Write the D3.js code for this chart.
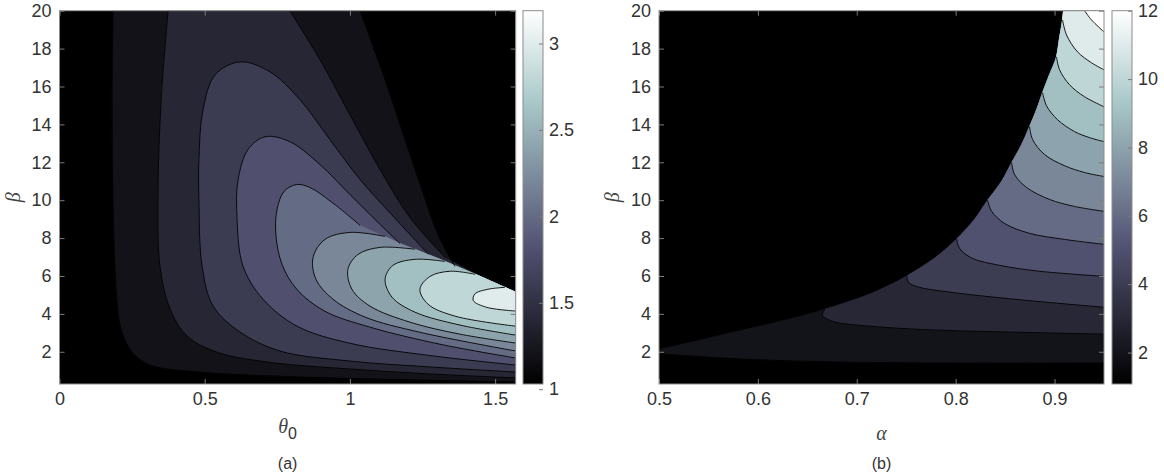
<!DOCTYPE html>
<html>
<head>
<meta charset="utf-8">
<script src="https://cdn.jsdelivr.net/npm/d3@7"></script>
<style>
  body { margin: 0; background: #fff; }
  svg { display: block; }
  .tick text { font-family: "Liberation Sans", Arial, sans-serif; font-size: 18px; fill: #333; }
  .lbl { font-family: "Liberation Sans", Arial, sans-serif; font-size: 16px; fill: #333; }
  .greek { font-family: "Liberation Serif", "DejaVu Serif", serif; font-style: italic; font-size: 20px; fill: #444; }
</style>
</head>
<body>
<svg id="chart" width="1164" height="476"></svg>
<script>
// ---------- panel (a): theta_0 vs beta ----------
const levelsA = [1.2, 1.4, 1.6, 1.8, 2.0, 2.2, 2.4, 2.6, 2.8, 3.0];
const colorRangeA = [1.03, 3.19];
const xTicksA = [0, 0.5, 1, 1.5];
const cbTicksA = [1, 1.5, 2, 2.5, 3];
// ridge where the contours pile up (upper edge of the lobe), ends on the right border
const ridgeA = [[0.93, 9.41], [1.035, 8.67], [1.172, 7.72], [1.31, 6.88], [1.448, 5.98], [1.5708, 5.14]];
// left/bottom branch of each level
const contoursA = [
  [[0.184, 20], [0.181, 15.3], [0.184, 10.04], [0.195, 5.3], [0.212, 3.19], [0.25, 1.98], [0.312, 1.3], [0.484, 0.93], [0.828, 0.67], [1.241, 0.51], [1.5708, 0.41]],
  [[0.374, 20], [0.35, 15.3], [0.339, 10.04], [0.346, 6.51], [0.381, 4.25], [0.439, 2.83], [0.542, 1.98], [0.715, 1.46], [1.0, 1.09], [1.276, 0.83], [1.5708, 0.62]],
  [[1.27, 7.15], [1.172, 8.77], [1.035, 11.09], [0.931, 13.2], [0.828, 15.3], [0.725, 16.77], [0.622, 17.3], [0.536, 16.62], [0.494, 14.77], [0.48, 12.14], [0.48, 10.04], [0.491, 6.51], [0.529, 4.41], [0.622, 3.04], [0.759, 2.04], [1.0, 1.51], [1.276, 1.2], [1.5708, 0.93]],
  [[1.172, 7.72], [1.104, 8.72], [1.0, 10.3], [0.897, 11.88], [0.793, 13.09], [0.708, 13.35], [0.649, 12.67], [0.615, 11.09], [0.611, 9.14], [0.632, 6.51], [0.701, 4.77], [0.818, 3.35], [1.0, 2.45], [1.276, 1.8], [1.5708, 1.3]],
  [[1.035, 8.67], [0.948, 9.77], [0.862, 10.67], [0.817, 10.83], [0.773, 10.46], [0.749, 9.51], [0.745, 8.19], [0.766, 6.62], [0.817, 5.3], [0.914, 4.14], [1.069, 3.3], [1.31, 2.4], [1.5708, 1.67]],
  [[1.121, 8.09], [1.0, 8.3], [0.914, 7.93], [0.873, 6.98], [0.883, 5.83], [0.942, 4.77], [1.052, 3.83], [1.241, 3.03], [1.5708, 2.04]],
  [[1.224, 7.41], [1.104, 7.51], [1.028, 7.14], [0.993, 6.35], [1.007, 5.3], [1.069, 4.41], [1.207, 3.56], [1.379, 2.93], [1.5708, 2.46]],
  [[1.327, 6.77], [1.224, 6.88], [1.148, 6.56], [1.121, 5.83], [1.145, 4.88], [1.224, 4.09], [1.379, 3.41], [1.5708, 2.88]],
  [[1.431, 6.09], [1.345, 6.25], [1.276, 5.98], [1.241, 5.3], [1.269, 4.51], [1.362, 3.88], [1.5708, 3.35]],
  [[1.534, 5.4], [1.475, 5.3], [1.43, 5.05], [1.425, 4.7], [1.47, 4.35], [1.5708, 4.15]]
];
// upper-right branch (from the top border down into the ridge), only for the lowest levels
const fansA = [
  [[1.035, 20], [1.121, 16.35], [1.19, 13.2], [1.248, 10.56], [1.303, 8.19], [1.362, 6.5]],
  [[0.793, 20], [0.897, 17.41], [1.0, 14.51], [1.104, 11.61], [1.207, 9.08], [1.33, 6.95]],
  null, null, null, null, null, null, null, null
];

// ---------- panel (b): alpha vs beta ----------
const levelsB = [2, 3, 4, 5, 6, 7, 8, 9, 10, 11, 12];
const colorRangeB = [1.08, 12];
const xTicksB = [0.5, 0.6, 0.7, 0.8, 0.9];
const cbTicksB = [2, 4, 6, 8, 10, 12];
// edge of the empty (black) region, from left border to top border
const edgeB = [[0.5, 2.12], [0.5414, 2.62], [0.5818, 3.12], [0.6253, 3.65], [0.6677, 4.25], [0.7131, 5.05], [0.7505, 6.0], [0.7788, 6.95], [0.801, 7.95], [0.8192, 9.0], [0.8323, 10.0], [0.8465, 11.0], [0.8566, 11.98], [0.8667, 12.93], [0.8747, 13.88], [0.8818, 14.77], [0.8879, 15.67], [0.8949, 16.62], [0.902, 17.56], [0.9051, 18.56], [0.9081, 19.51], [0.9091, 20]];
const contoursB = [
  [[0.5, 1.9], [0.5818, 1.62], [0.6828, 1.46], [0.7838, 1.41], [0.95, 1.41]],
  [[0.6677, 4.25], [0.6652, 3.95], [0.6747, 3.62], [0.7131, 3.35], [0.7838, 3.14], [0.8646, 3.03], [0.95, 2.93]],
  [[0.7505, 6.0], [0.7525, 5.65], [0.7636, 5.4], [0.7939, 5.15], [0.8444, 4.85], [0.8949, 4.6], [0.95, 4.35]],
  [[0.801, 7.95], [0.804, 7.45], [0.8162, 6.95], [0.8444, 6.56], [0.8848, 6.25], [0.95, 5.98]],
  [[0.8323, 10.0], [0.8364, 9.41], [0.8495, 8.77], [0.8747, 8.25], [0.9101, 7.93], [0.95, 7.67]],
  [[0.8566, 11.98], [0.8596, 11.35], [0.8717, 10.67], [0.8949, 10.04], [0.9202, 9.67], [0.95, 9.41]],
  [[0.8747, 13.88], [0.8778, 13.2], [0.8899, 12.41], [0.9101, 11.82], [0.9303, 11.46], [0.95, 11.25]],
  [[0.8879, 15.67], [0.8919, 14.98], [0.903, 14.25], [0.9202, 13.62], [0.9354, 13.3], [0.95, 13.09]],
  [[0.902, 17.56], [0.9051, 16.88], [0.9152, 16.09], [0.9303, 15.46], [0.95, 14.93]],
  [[0.9081, 19.51], [0.9121, 18.72], [0.9232, 17.83], [0.9374, 17.25], [0.95, 16.88]],
  [[0.9303, 20], [0.9374, 19.51], [0.95, 18.88]]
];

const yTicks = [2, 4, 6, 8, 10, 12, 14, 16, 18, 20];

// ---------- drawing ----------
const svg = d3.select("#chart");
// MATLAB "bone" colormap (piecewise linear)
const bone = d3.scaleLinear().domain([0, 0.375, 0.75, 1])
  .range(["#000000", "#545474", "#a7c7c7", "#ffffff"]);
const boxColor = "#8c8c8c";

function panel(opt) {
  const x = d3.scaleLinear().domain(opt.xDomain).range([opt.left, opt.right]);
  const y = d3.scaleLinear().domain([0.3, 20]).range([opt.bottom, opt.top]);
  const c = d3.scaleLinear().domain(opt.cRange).range([0, 1]).clamp(true);
  const smooth = d3.line().x(d => x(d[0])).y(d => y(d[1])).curve(d3.curveCatmullRom.alpha(0.5));
  const straight = d3.line().x(d => x(d[0])).y(d => y(d[1]));
  const join = p => (p ? "L" + p.slice(1).replace(/Z$/, "") : "");

  const g = svg.append("g");
  g.append("clipPath").attr("id", "clip-" + opt.name).append("rect")
    .attr("x", opt.left).attr("y", opt.top)
    .attr("width", opt.right - opt.left).attr("height", opt.bottom - opt.top);
  const plot = g.append("g").attr("clip-path", `url(#clip-${opt.name})`);
  plot.append("rect")
    .attr("x", opt.left).attr("y", opt.top)
    .attr("width", opt.right - opt.left).attr("height", opt.bottom - opt.top)
    .attr("fill", bone(0));

  // filled bands, lowest level first
  opt.levels.forEach((lev, i) => {
    plot.append("path")
      .attr("d", opt.region(i, smooth, straight, join))
      .attr("fill", bone(c(lev)))
      .attr("stroke", bone(c(lev)))
      .attr("stroke-width", 0.6);
  });
  // contour lines
  const lines = plot.append("g").attr("fill", "none").attr("stroke", "#000").attr("stroke-width", 0.9);
  opt.curves.forEach(cv => { if (cv) lines.append("path").attr("d", smooth(cv)); });

  // axes, ticks inside on all four sides
  const tidy = s => { s.select(".domain").remove(); s.selectAll(".tick line").attr("stroke", "#7a7a7a"); };
  g.append("g").attr("transform", `translate(0,${opt.bottom})`)
    .call(d3.axisBottom(x).tickValues(opt.xTicks).tickSize(-5).tickPadding(8).tickFormat(d3.format("")))
    .call(tidy);
  g.append("g").attr("transform", `translate(0,${opt.top})`)
    .call(d3.axisTop(x).tickValues(opt.xTicks).tickSize(-5).tickFormat(""))
    .call(tidy);
  g.append("g").attr("transform", `translate(${opt.left},0)`)
    .call(d3.axisLeft(y).tickValues(yTicks).tickSize(-5).tickPadding(8))
    .call(tidy);
  g.append("g").attr("transform", `translate(${opt.right},0)`)
    .call(d3.axisRight(y).tickValues(yTicks).tickSize(-5).tickFormat(""))
    .call(tidy);
  g.append("rect")
    .attr("x", opt.left).attr("y", opt.top)
    .attr("width", opt.right - opt.left).attr("height", opt.bottom - opt.top)
    .attr("fill", "none").attr("stroke", boxColor);

  // colorbar
  const cy = d3.scaleLinear().domain(opt.cRange).range([opt.bottom, opt.top]);
  const grad = g.append("linearGradient").attr("id", "grad-" + opt.name)
    .attr("x1", 0).attr("y1", 1).attr("x2", 0).attr("y2", 0);
  grad.selectAll("stop").data(bone.domain()).join("stop")
    .attr("offset", d => d).attr("stop-color", d => bone(d));
  g.append("rect")
    .attr("x", opt.cbLeft).attr("y", opt.top)
    .attr("width", 20).attr("height", opt.bottom - opt.top)
    .attr("fill", `url(#grad-${opt.name})`);
  g.append("g").attr("transform", `translate(${opt.cbLeft + 20},0)`)
    .call(d3.axisRight(cy).tickValues(opt.cbTicks).tickSize(-4).tickPadding(6).tickFormat(d3.format("")))
    .call(tidy);
  g.append("rect")
    .attr("x", opt.cbLeft).attr("y", opt.top)
    .attr("width", 20).attr("height", opt.bottom - opt.top)
    .attr("fill", "none").attr("stroke", boxColor);

  // labels
  const mid = (opt.left + opt.right) / 2;
  g.append("text").attr("class", "greek")
    .attr("transform", `translate(${opt.left - 46},${(opt.top + opt.bottom) / 2}) rotate(-90)`)
    .attr("text-anchor", "middle").attr("dy", "0.3em").text("β");
  opt.xLabel(g.append("text").attr("x", mid).attr("y", 433).attr("text-anchor", "middle"));
  g.append("text").attr("class", "lbl").attr("x", mid).attr("y", 469)
    .attr("text-anchor", "middle").text(opt.tag);
}

panel({
  name: "a", left: 59.5, right: 515.7, top: 10.7, bottom: 384, cbLeft: 523,
  xDomain: [0, Math.PI / 2], cRange: colorRangeA, levels: levelsA,
  xTicks: xTicksA, cbTicks: cbTicksA, tag: "(a)",
  curves: contoursA.concat(fansA),
  region: (i, smooth, straight, join) => {
    const cur = contoursA[i], fan = fansA[i];
    const end = cur[cur.length - 1];
    const from = fan ? fan[fan.length - 1][0] : cur[0][0];
    const rim = ridgeA.filter(p => p[0] > from).reverse();
    let d = smooth(cur) + join(straight([end, ...rim]));
    if (fan) d += join(smooth(fan.slice().reverse()));
    return d + "Z";
  },
  xLabel: t => {
    t.append("tspan").attr("class", "greek").text("θ");
    t.append("tspan").attr("class", "lbl").attr("dy", 6).attr("font-size", 17).text("0");
  }
});

panel({
  name: "b", left: 659, right: 1104, top: 10.7, bottom: 384, cbLeft: 1112,
  xDomain: [0.5, 0.95], cRange: colorRangeB, levels: levelsB,
  xTicks: xTicksB, cbTicks: cbTicksB, tag: "(b)",
  curves: contoursB,
  region: (i, smooth, straight, join) => {
    const cur = contoursB[i];
    const end = cur[cur.length - 1];
    const edge = edgeB.filter(p => p[0] >= cur[0][0]).reverse();
    let d = smooth(cur) + join(straight([end, [0.95, 20]]));
    if (edge.length) d += join(smooth(edge));
    return d + "Z";
  },
  xLabel: t => t.attr("class", "greek").attr("y", 440).text("α")
});
</script>
</body>
</html>
